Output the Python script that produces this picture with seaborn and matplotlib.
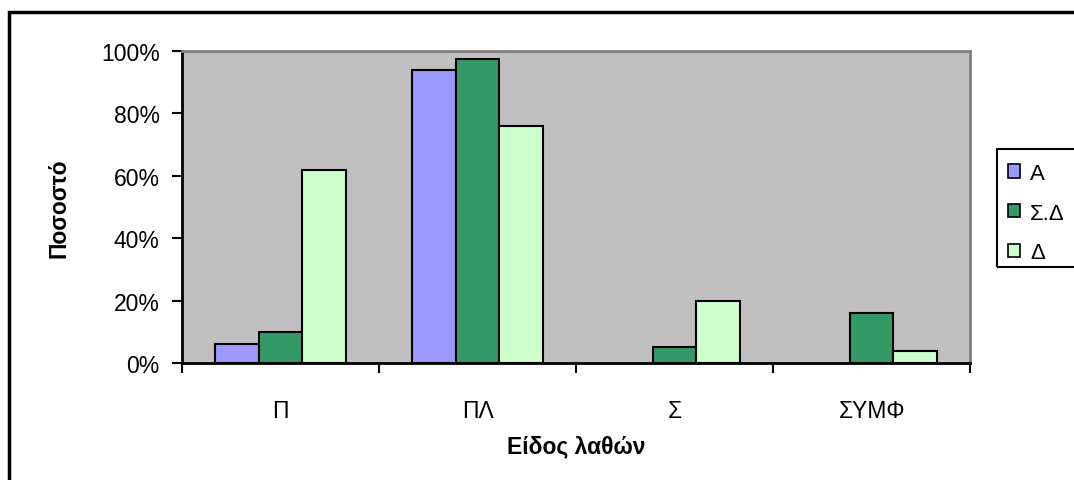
import numpy as np
import pandas as pd
import matplotlib
matplotlib.use("Agg")
import matplotlib.pyplot as plt
from matplotlib.patches import Rectangle, Patch
from matplotlib.ticker import FixedLocator, PercentFormatter
import seaborn as sns

# error types on x, three groups of pupils as hue
CATEGORIES = ["Π", "ΠΛ", "Σ", "ΣΥΜΦ"]
SERIES = ["Α", "Σ.Δ", "Δ"]
VALUES_A = [6, 94, np.nan, np.nan]
VALUES_SD = [10, 97.5, 5, 16]
VALUES_D = [62, 76, 20, 4]
COLORS = ["#9999FF", "#339966", "#CCFFCC"]

df = pd.DataFrame({
    "cat": CATEGORIES * 3,
    "group": [s for s in SERIES for _ in CATEGORIES],
    "pct": VALUES_A + VALUES_SD + VALUES_D,
}).dropna()

plt.rcParams["font.family"] = ["Liberation Sans", "DejaVu Sans"]

W, H = 1074, 481
fig = plt.figure(figsize=(W / 100, H / 100), dpi=100)
ax = fig.add_axes([182 / W, 1 - 364 / H, (970 - 182) / W, (364 - 52) / H])

sns.barplot(data=df, x="cat", y="pct", hue="group", order=CATEGORIES,
            hue_order=SERIES, palette=COLORS, width=0.67, ax=ax,
            edgecolor="black", linewidth=1.5, saturation=1, legend=False)

ax.set_facecolor("#C0C0C0")
ax.set_xlim(-0.5, 3.5)
ax.set_ylim(0, 100)
ax.yaxis.set_major_locator(FixedLocator([0, 20, 40, 60, 80, 100]))
ax.yaxis.set_major_formatter(PercentFormatter(decimals=0))
ax.tick_params(axis="y", length=7, width=1.5, labelsize=16.5, pad=9, direction="out")
ax.tick_params(axis="x", which="major", length=0, labelsize=16.5, pad=26)
ax.xaxis.set_minor_locator(FixedLocator([-0.5, 0.5, 1.5, 2.5, 3.5]))
ax.tick_params(axis="x", which="minor", length=7, width=1.5, direction="out")

for side in ["left", "bottom"]:
    ax.spines[side].set_color("black")
    ax.spines[side].set_linewidth(2)
for side in ["top", "right"]:
    ax.spines[side].set_color("#808080")
    ax.spines[side].set_linewidth(2)

ax.set_xlabel("Είδος λαθών", fontsize=16.5, fontweight="bold", labelpad=9)
ax.set_ylabel("Ποσοστό", fontsize=16.5, fontweight="bold", labelpad=22)

handles = [Patch(facecolor=c, edgecolor="black", linewidth=1.2) for c in COLORS]
leg = fig.legend(handles, SERIES, loc="upper left",
                 bbox_to_anchor=(1001 / W, 1 - 157 / H),
                 fontsize=16, frameon=False,
                 handlelength=0.55, handleheight=0.55, handletextpad=0.45,
                 labelspacing=0.85, borderpad=0.3, borderaxespad=0)

# legend box runs off the right edge like the original
fig.patches.append(Rectangle((997 / W, 1 - 268 / H), 100 / W, 118 / H,
                             transform=fig.transFigure, fill=False,
                             edgecolor="black", linewidth=1.5, clip_on=False))

# outer chart-area frame, runs off the right and bottom edges
fig.patches.append(Rectangle((9 / W, -0.1), 1.2, 1.1 - 13 / H,
                             transform=fig.transFigure, fill=False,
                             edgecolor="black", linewidth=2.5, clip_on=False))

fig.savefig("out.png", dpi=100)
